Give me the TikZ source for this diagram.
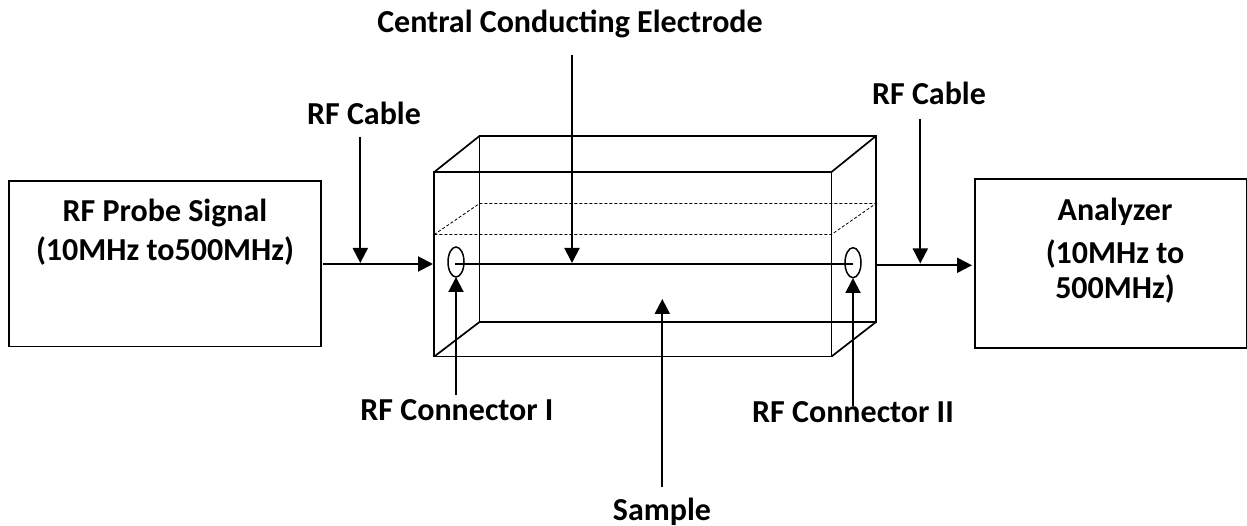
\documentclass[tikz,border=0pt]{standalone}
\usepackage{fontspec}
\setmainfont{Carlito}
\usetikzlibrary{arrows.meta,shapes.geometric}
\tikzset{
 lab/.style={font=\fontsize{32}{39}\selectfont\bfseries,align=center,inner sep=0pt,anchor=base},
 edge/.style={line width=1.7pt},
 blockbox/.style={draw,line width=1.7pt,inner sep=0pt},
 hidden/.style={line width=.8pt,dash pattern=on 3pt off 2pt},
 arr/.style={line width=2pt,-{Triangle[length=15pt,width=15pt]}},
 conn/.style={draw,ellipse,line width=1.5pt,minimum width=16pt,minimum height=30pt,inner sep=0pt},
}
\begin{document}
\begin{tikzpicture}[x=1pt,y=-1pt]
\useasboundingbox[fill=white] (0,0) rectangle (1247,526);
\node[blockbox,minimum width=311.4pt,minimum height=165.7pt] (src) at (165,263.8) {};
\node[blockbox,minimum width=272pt,minimum height=168.4pt] (ana) at (1111,263.5) {};
\node[lab] (srct) at (165,260.3) {RF Probe Signal\\(10MHz to500MHz)};
\node[lab] (anat) at (1115,299) {Analyzer\\[4pt](10MHz to\\[-4pt]500MHz)};
\coordinate (A) at (434.3,172); \coordinate (B) at (831.5,172);
\coordinate (C) at (831.5,356.5); \coordinate (D) at (434.3,356.5);
\coordinate (E) at (479.5,136); \coordinate (F) at (876,136);
\coordinate (G) at (876,322); \coordinate (H) at (479.5,322);
\draw[edge] (A)--(B)--(C)--(D)--cycle;
\draw[edge] (E)--(F)--(G)--(H)--cycle;
\draw[edge] (A)--(E) (B)--(F) (C)--(G) (D)--(H);
\coordinate (m1) at (434.3,234.5); \coordinate (m2) at (831.5,234.5);
\coordinate (m3) at (876,203.5); \coordinate (m4) at (479.5,203.5);
\draw[hidden] (m1)--(m2)--(m3)--(m4)--cycle;
\node[conn] (c1) at (456,262) {};
\node[conn] (c2) at (853,262.7) {};
\coordinate (e1) at (455,264); \coordinate (e2) at (853,264);
\draw[edge] (e1)--(e2);
\coordinate (s1) at (323,264); \coordinate (s1e) at (433,264);
\coordinate (s2) at (877,265.3); \coordinate (s2e) at (972,265.3);
\draw[arr] (s1)--(s1e);
\draw[arr] (s2)--(s2e);
\node[lab] (t1) at (364,125) {RF Cable};
\node[lab] (t2) at (929,105) {RF Cable};
\node[lab] (t3) at (570,33) {Central Conducting Electrode};
\node[lab] (t4) at (457,420.7) {RF Connector I};
\node[lab] (t5) at (853,422.3) {RF Connector II};
\node[lab] (t6) at (662,520) {Sample};
\coordinate (a1s) at (360.3,136.7); \coordinate (a1e) at (360.3,263);
\coordinate (a2s) at (920.3,119); \coordinate (a2e) at (920.3,263.5);
\coordinate (a3s) at (572,55); \coordinate (a3e) at (572,263);
\coordinate (a4s) at (456,394.7); \coordinate (a4e) at (456,277);
\coordinate (a5s) at (853,406); \coordinate (a5e) at (853,278);
\coordinate (a6s) at (662.3,486.7); \coordinate (a6e) at (662.3,299);
\draw[arr] (a1s)--(a1e);
\draw[arr] (a2s)--(a2e);
\draw[arr] (a3s)--(a3e);
\draw[arr] (a4s)--(a4e);
\draw[arr] (a5s)--(a5e);
\draw[arr] (a6s)--(a6e);
\end{tikzpicture}
\end{document}
